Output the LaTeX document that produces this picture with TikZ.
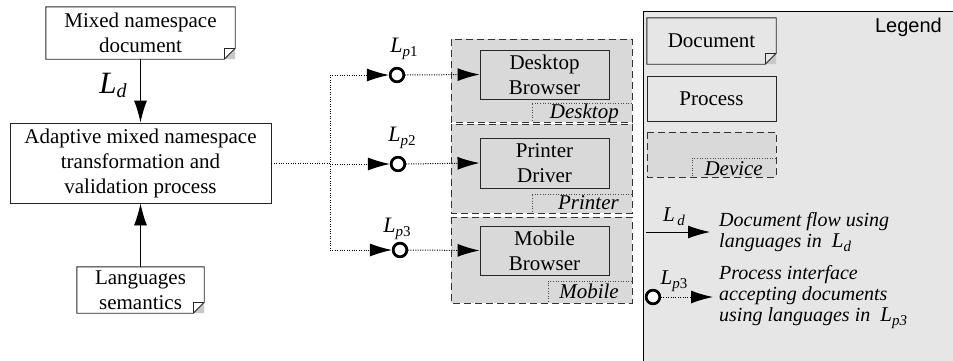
\documentclass[tikz,border=0pt]{standalone}
\usepackage{fontspec}
\setmainfont{Liberation Serif}
\newfontfamily\legendfont{Liberation Sans}
\usetikzlibrary{arrows.meta}
\definecolor{devgray}{RGB}{217,217,217}
\definecolor{leggray}{RGB}{230,230,230}
\definecolor{foldgray}{RGB}{200,200,200}
\newcommand{\Lsub}[4]{{\fontsize{#1}{#1}\selectfont\itshape L}\raisebox{#4}{\fontsize{#2}{#2}\selectfont #3}}
\newcommand{\docbox}[1]{%
  \fill[foldgray] ([xshift=-11pt]#1.south east) -- (#1.south east) -- ([yshift=11pt]#1.south east) -- cycle;
  \draw[boxline] (#1.north west) -- (#1.north east) -- ([yshift=11pt]#1.south east) -- ([xshift=-11pt]#1.south east) -- (#1.south west) -- cycle;
  \draw[boxline] ([xshift=-11pt]#1.south east) -- ([xshift=-11pt,yshift=11pt]#1.south east) -- ([yshift=11pt]#1.south east);
}
\begin{document}
\begin{tikzpicture}[x=1pt,y=-1pt,
  boxline/.style={draw=black!85,line width=0.9pt},
  txt/.style={font=\fontsize{21}{25}\selectfont, align=center},
  box/.style={boxline, txt, inner sep=0pt},
  docnode/.style={txt, inner sep=0pt, fill=white},
  bigarrow/.style={-{Latex[length=22pt,width=13pt]}},
  dots/.style={line width=1pt, dash pattern=on 1pt off 1.4pt},
  device/.style={draw=black!80, fill=devgray, line width=0.9pt, dash pattern=on 7pt off 4pt},
  devlabel/.style={draw=black!70, line width=0.8pt, dash pattern=on 1pt off 1.6pt},
  devtext/.style={font=\fontsize{21}{21}\selectfont\itshape, inner sep=0pt},
  port/.style={circle, draw=black, line width=2.6pt, fill=white, minimum size=13.5pt, inner sep=0pt},
  lab/.style={inner sep=0pt},
  legtext/.style={anchor=west, align=left, inner sep=0pt, font=\fontsize{20}{21}\selectfont\itshape},
]
\useasboundingbox (0,0) rectangle (953,360);

% legend panel
\fill[leggray] (643,11) rectangle (980,390);
\draw[line width=0.9pt] (643,390) -- (643,11) -- (980,11);
\node[anchor=east, inner sep=0pt, font=\legendfont\fontsize{20}{20}\selectfont] (legt) at (942,27) {Legend};

% left column
\node[docnode, minimum width=189pt, minimum height=52pt] (doc) at (140.5,33) {Mixed namespace\\document};
\docbox{doc}
\node[box, fill=white, minimum width=261pt, minimum height=80pt] (proc) at (140.5,163) {Adaptive mixed namespace\\transformation and\\validation process};
\node[docnode, minimum width=127pt, minimum height=46pt] (lang) at (140.5,290) {Languages\\semantics};
\docbox{lang}
\draw[line width=0.9pt, bigarrow] (doc.south) -- (proc.north);
\node[lab] (ld) at (113,85) {\Lsub{31}{20}{\textit{d}}{-4pt}};
\draw[line width=0.9pt, bigarrow] (lang.north) -- (proc.south);

% devices
\draw[device] (451,39) rectangle (632,122);
\draw[device] (451,124) rectangle (632,213);
\draw[device] (451,217) rectangle (632,303);
\draw[devlabel] (632,103) -- (532,103) -- (532,122);
\draw[devlabel] (632,194) -- (532,194) -- (532,213);
\draw[devlabel] (632,281) -- (548,281) -- (548,303);
\node[devtext, anchor=base east] (dl1) at (619,118) {Desktop};
\node[devtext, anchor=base east] (dl2) at (619,209) {Printer};
\node[devtext, anchor=base east] (dl3) at (619,298) {Mobile};

\node[box, minimum width=129pt, minimum height=49pt] (db) at (544.5,74.5) {Desktop\\Browser};
\node[box, minimum width=129pt, minimum height=50pt] (pd) at (544.5,163) {Printer\\Driver};
\node[box, minimum width=129pt, minimum height=49pt] (mb) at (544.5,250.5) {Mobile\\Browser};

% ports
\coordinate (j1) at (330,75);
\coordinate (j3) at (330,250);
\node[port] (c1) at (397,75) {};
\node[port] (c2) at (398,164) {};
\node[port] (c3) at (400,250) {};
\draw[dots] (j1) -- (j3);
\draw[dots] (proc.east) -- (330,163);
\draw[dots, bigarrow] (330,164) -- (c2.west);
\draw[dots, bigarrow] (j1) -- (c1.west);
\draw[dots, bigarrow] (j3) -- (c3.west);
\draw[dots, bigarrow] (c1.east) -- (db.west);
\draw[dots, bigarrow] (c2.east) -- (pd.west);
\draw[dots, bigarrow] (c3.east) -- (mb.west);
\node[port] at (c1) {};
\node[port] at (c2) {};
\node[port] at (c3) {};
\node[lab] (lp1) at (404,49) {\Lsub{22}{15}{\textit{p}1}{-4pt}};
\node[lab] (lp2) at (402,138) {\Lsub{22}{15}{\textit{p}2}{-4pt}};
\node[lab] (lp3) at (397,229) {\Lsub{22}{15}{\textit{p}3}{-4pt}};

% legend contents
\node[docnode, fill=leggray, minimum width=129pt, minimum height=46pt] (ldoc) at (711.5,41) {Document};
\docbox{ldoc}
\node[box, minimum width=129pt, minimum height=45pt] (lproc) at (711.5,98.5) {Process};
\draw[device] (647,132) rectangle (776,177);
\draw[devlabel] (776,158) -- (692,158) -- (692,177);
\node[devtext, anchor=base east] (ldev) at (763,175) {Device};

\coordinate (la0) at (646,232);
\coordinate (la1) at (710,232);
\draw[line width=0.9pt, bigarrow] (la0) -- (la1);
\node[lab] (lld) at (674,217) {\Lsub{21}{15}{\,\textit{d}}{-4pt}};
\node[legtext] (lt1) at (719,232) {Document flow using\\languages in\ \ \Lsub{21}{15}{\textit{d}}{-4pt}};

\node[port] (lc) at (653,297) {};
\coordinate (la2) at (713,297);
\draw[dots, bigarrow] (lc.east) -- (la2);
\node[port] at (lc) {};
\node[lab] (llp) at (674,281) {\Lsub{21}{15}{\textit{p}3}{-4pt}};
\node[legtext] (lt2) at (719,297) {Process interface\\accepting documents\\using languages in\ \ \Lsub{21}{15}{\textit{p}3}{-4pt}};
\end{tikzpicture}
\end{document}
